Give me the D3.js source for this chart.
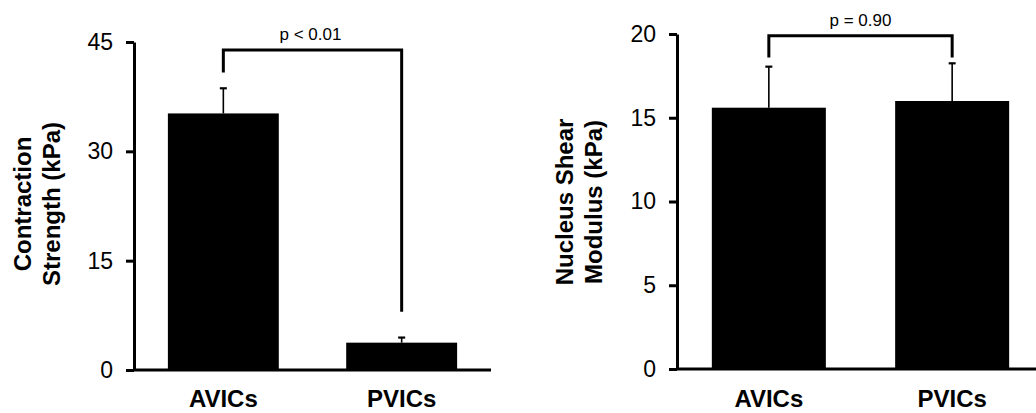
<!DOCTYPE html>
<html>
<head>
<meta charset="utf-8">
<script src="https://cdn.jsdelivr.net/npm/d3@7"></script>
<style>
  body { margin: 0; background: #fff; }
  svg { display: block; font-family: "Liberation Sans", Arial, sans-serif; }
</style>
</head>
<body>
<svg id="chart" width="1036" height="413"></svg>
<script>
// Groups shown on both panels
const categories = ['AVICs', 'PVICs'];

// Left panel: contraction strength (kPa)
const contractionValues = [35.2, 3.75];
const contractionErrors = [3.45, 0.7];
const contractionTicks = [0, 15, 30, 45];
const contractionBracket = { top: 43.9, legs: [40.8, 8.0], label: 'p < 0.01' };

// Right panel: nucleus shear modulus (kPa)
const shearValues = [15.6, 16.0];
const shearErrors = [2.45, 2.25];
const shearTicks = [0, 5, 10, 15, 20];
const shearBracket = { top: 19.9, legs: [18.6, 18.6], label: 'p = 0.90' };

const svg = d3.select('#chart');

function drawPanel(opts) {
  const g = svg.append('g');

  const x = d3.scaleBand()
    .domain(categories)
    .range([opts.left, opts.right])
    .paddingInner(0.378)
    .paddingOuter(0.19);

  const y = d3.scaleLinear()
    .domain([0, d3.max(opts.ticks)])
    .range([opts.bottom, opts.top]);

  // bars
  g.selectAll('rect.bar')
    .data(categories)
    .enter().append('rect')
    .attr('class', 'bar')
    .attr('x', d => x(d))
    .attr('width', x.bandwidth())
    .attr('y', (d, i) => y(opts.values[i]))
    .attr('height', (d, i) => y(0) - y(opts.values[i]))
    .attr('fill', '#000');

  // error bars (upper only)
  const err = g.selectAll('g.err')
    .data(categories)
    .enter().append('g')
    .attr('class', 'err');
  err.append('line')
    .attr('x1', d => x(d) + x.bandwidth() / 2)
    .attr('x2', d => x(d) + x.bandwidth() / 2)
    .attr('y1', (d, i) => y(opts.values[i]))
    .attr('y2', (d, i) => y(opts.values[i] + opts.errors[i]))
    .attr('stroke', '#000')
    .attr('stroke-width', 1.6);
  err.append('line')
    .attr('x1', d => x(d) + x.bandwidth() / 2 - 3.5)
    .attr('x2', d => x(d) + x.bandwidth() / 2 + 3.5)
    .attr('y1', (d, i) => y(opts.values[i] + opts.errors[i]))
    .attr('y2', (d, i) => y(opts.values[i] + opts.errors[i]))
    .attr('stroke', '#000')
    .attr('stroke-width', 2.2);

  // baseline
  g.append('line')
    .attr('x1', opts.left)
    .attr('x2', opts.right)
    .attr('y1', y(0))
    .attr('y2', y(0))
    .attr('stroke', '#000')
    .attr('stroke-width', 3);

  // y axis
  const axis = g.append('g')
    .attr('transform', `translate(${opts.left},0)`)
    .call(d3.axisLeft(y).tickValues(opts.ticks).tickSize(8).tickSizeOuter(0).tickPadding(13));
  axis.select('.domain').attr('stroke-width', 3);
  axis.selectAll('.tick line').attr('stroke-width', 3);
  axis.selectAll('.tick text')
    .attr('font-size', 23)
    .attr('font-family', '"Liberation Sans", Arial, sans-serif')
    .attr('fill', '#000');

  // category labels
  g.selectAll('text.cat')
    .data(categories)
    .enter().append('text')
    .attr('class', 'cat')
    .attr('x', d => x(d) + x.bandwidth() / 2)
    .attr('y', 407)
    .attr('text-anchor', 'middle')
    .attr('font-size', 24)
    .attr('font-weight', 'bold')
    .text(d => d);

  // y title, two lines
  opts.title.forEach((line, i) => {
    g.append('text')
      .attr('transform', `translate(${opts.titleX + i * 29},${opts.titleY}) rotate(-90)`)
      .attr('text-anchor', 'middle')
      .attr('dy', '0.35em')
      .attr('font-size', 24)
      .attr('font-weight', 'bold')
      .text(line);
  });

  // significance bracket
  const b = opts.bracket;
  const cx = categories.map(d => x(d) + x.bandwidth() / 2);
  g.append('path')
    .attr('d', `M${cx[0]},${y(b.legs[0])}V${y(b.top)}H${cx[1]}V${y(b.legs[1])}`)
    .attr('fill', 'none')
    .attr('stroke', '#000')
    .attr('stroke-width', 3);
  g.append('text')
    .attr('x', (cx[0] + cx[1]) / 2 + opts.labelShift)
    .attr('y', y(b.top) - 10)
    .attr('text-anchor', 'middle')
    .attr('font-size', 17)
    .text(b.label);
}

drawPanel({
  left: 134, right: 491, top: 42, bottom: 370,
  values: contractionValues, errors: contractionErrors, ticks: contractionTicks,
  bracket: contractionBracket, title: ['Contraction', 'Strength (kPa)'],
  titleX: 23, titleY: 204, labelShift: -2
});

drawPanel({
  left: 677, right: 1044, top: 34, bottom: 369,
  values: shearValues, errors: shearErrors, ticks: shearTicks,
  bracket: shearBracket, title: ['Nucleus Shear', 'Modulus (kPa)'],
  titleX: 565, titleY: 202, labelShift: 0
});
</script>
</body>
</html>
